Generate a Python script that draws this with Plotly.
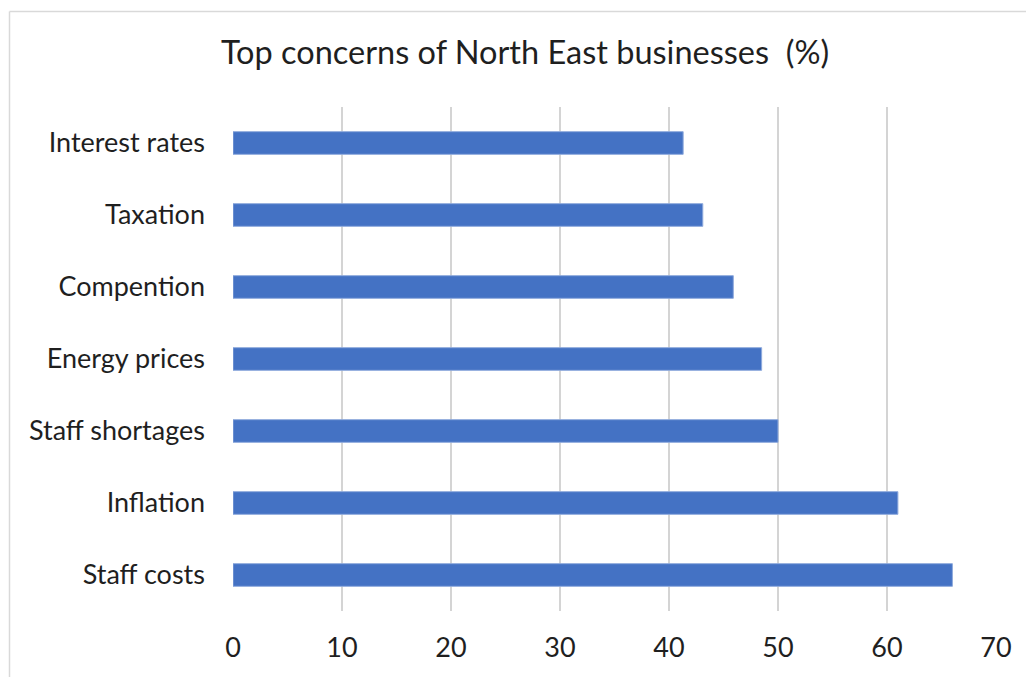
import plotly.graph_objects as go

categories = ["Staff costs", "Inflation", "Staff shortages", "Energy prices",
              "Compention", "Taxation", "Interest rates"]
values = [66.0, 61.0, 50.0, 48.5, 45.9, 43.1, 41.3]
x_ticks = [0, 10, 20, 30, 40, 50, 60, 70]
title_text = "Top concerns of North East businesses  (%)"

FONT = "Lato, Calibri, Carlito, sans-serif"
W, H = 1026, 677
L, R, T, B = 233, 30, 107, 66
pw = W - L - R
ph = H - T - B

fig = go.Figure(go.Bar(
    x=values, y=categories, orientation="h",
    marker=dict(color="#4472C4", line=dict(color="#8FAADC", width=1)),
    hoverinfo="x+y",
))

def px_to_paper_x(px):
    return (px - L) / pw

def py_to_paper_y(py):
    return (H - B - py) / ph

border = "#D9D9D9"
fig.update_layout(
    width=W, height=H,
    margin=dict(l=L, r=R, t=T, b=B, pad=0, autoexpand=False),
    paper_bgcolor="white", plot_bgcolor="white",
    bargap=0.685,
    showlegend=False,
    font=dict(family=FONT, color="#1f1f1f", size=27),
    title=dict(text=title_text, x=px_to_paper_x(525), xref="paper", xanchor="center",
               y=1 - 53 / H, yref="container", yanchor="middle",
               font=dict(family=FONT, size=32.5, color="#1f1f1f")),
    xaxis=dict(range=[0, 70], tickvals=x_ticks, showgrid=True, gridcolor="#D4D4D4",
               gridwidth=1.8, zeroline=False, showline=False, ticks="",
               automargin=False,
               ticklabelstandoff=18, tickfont=dict(size=27), fixedrange=True),
    yaxis=dict(showgrid=False, zeroline=False, showline=False, ticks="",
               automargin=False,
               ticklabelstandoff=27, tickfont=dict(size=27), fixedrange=True),
    shapes=[
        dict(type="line", xref="paper", yref="paper",
             x0=px_to_paper_x(9.5), x1=px_to_paper_x(9.5),
             y0=py_to_paper_y(11.5), y1=py_to_paper_y(690),
             line=dict(color=border, width=1.5)),
        dict(type="line", xref="paper", yref="paper",
             x0=px_to_paper_x(9.5), x1=px_to_paper_x(1040),
             y0=py_to_paper_y(11.5), y1=py_to_paper_y(11.5),
             line=dict(color=border, width=1.5)),
    ],
)

fig.write_html("out.html")
